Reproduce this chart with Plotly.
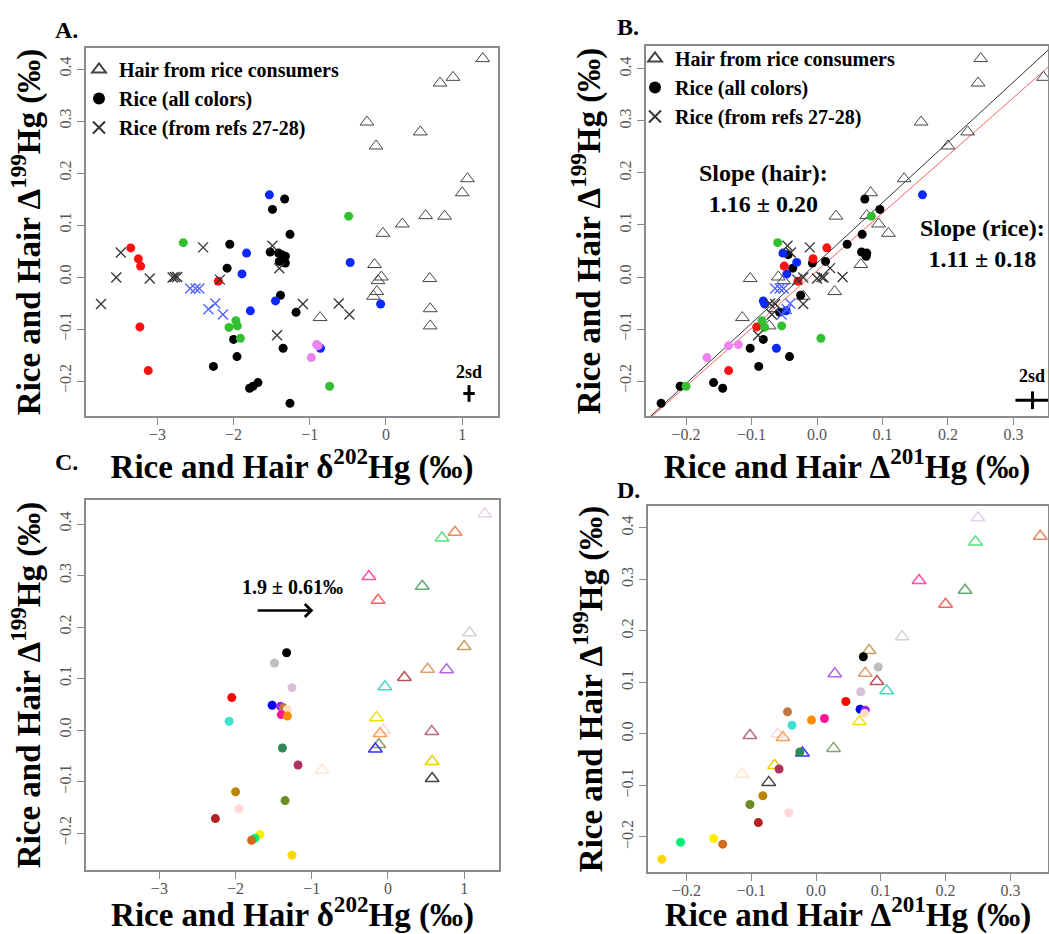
import plotly.graph_objects as go

# ---------------- data ----------------
# Hair from rice consumers (21)
hair_d202 = [1.27, 0.71, 0.88, -0.25, 0.45, -0.13, 1.07, 1.00, 0.52, 0.77, 0.215,
             -0.04, -0.15, -0.06, -0.105, 0.575, -0.12, -0.165, 0.58, -0.865, 0.58]
hair_D201 = [0.25, 0.246, 0.346, 0.159, 0.23, 0.20, 0.133, 0.082, 0.076, 0.029, 0.094,
             0.109, 0.067, -0.059, -0.051, -0.102, 0.027, -0.021, -0.064, -0.114, -0.073]
hair_D199 = [0.42, 0.373, 0.384, 0.298, 0.279, 0.252, 0.189, 0.162, 0.118, 0.117, 0.102,
             0.084, 0.024, 0.0, -0.007, -0.003, -0.028, -0.037, -0.061, -0.078, -0.094]
hair_colors = ["#E6D0F0", "#55DD77", "#E88A5A", "#FF4FA5", "#66AA77", "#F56565", "#D3D3D3",
               "#C8A060", "#DDA070", "#B266E0", "#C0505A", "#48D8C8", "#EEE000", "#FFD8D8",
               "#F8A050", "#C06888", "#88A070", "#3030FF", "#EECC00", "#FFE8CC", "#444444"]

# Rice paired with hair (21) - drawn black in A/B, coloured in C/D
pair_d202 = [-1.33, -1.49, -1.26, -2.05, -1.52, -1.41, -1.37, -1.32, -1.40, -1.32, -2.085,
             -1.385, -1.18, -2.0, -1.35, -1.955, -2.265, -1.68, -1.745, -1.79, -1.26]
pair_D201 = [0.073, 0.096, 0.069, 0.046, 0.068, 0.076, -0.044, 0.075, 0.013, -0.007, -0.037,
             -0.025, -0.057, -0.082, -0.102, -0.042, -0.089, -0.158, -0.209, -0.144, -0.238]
pair_D199 = [0.15, 0.13, 0.082, 0.063, 0.048, 0.046, 0.043, 0.04, 0.03, 0.027, 0.017,
             -0.035, -0.068, -0.12, -0.137, -0.153, -0.172, -0.203, -0.21, -0.214, -0.243]
pair_colors = ["#000000", "#BEBEBE", "#D8BFD8", "#FF0000", "#0000FF", "#A020F0", "#C07840",
               "#FFE0C0", "#FF1493", "#FF8C00", "#40E0D0", "#2E8B57", "#B03060", "#B8860B",
               "#6B8E23", "#FFD8D8", "#B22222", "#FFEE00", "#00EE76", "#D2691E", "#FFD700"]

# Other rice samples
blue_d202 = [-1.53, -1.83, -1.89, -1.78, -0.47, -1.45, -0.07, -0.86]
blue_D201 = [0.161, -0.052, -0.046, -0.047, -0.031, -0.082, -0.08, -0.062]
blue_D199 = [0.158, 0.046, 0.006, -0.065, 0.028, -0.046, -0.052, -0.137]

red_d202 = [-3.35, -3.25, -3.22, -3.23, -3.12, -2.2]
red_D201 = [0.015, -0.006, -0.05, -0.092, -0.135, -0.029]
red_D199 = [0.056, 0.035, 0.021, -0.096, -0.18, -0.008]

green_d202 = [-2.66, -0.49, -1.97, -1.95, -2.06, -1.91, -0.74]
green_D201 = [-0.06, 0.083, -0.084, -0.054, -0.08, 0.006, -0.2]
green_D199 = [0.066, 0.117, -0.084, -0.094, -0.097, -0.118, -0.21]

violet_d202 = [-0.89, -0.91, -0.98]
violet_D201 = [-0.135, -0.12, -0.168]
violet_D199 = [-0.132, -0.13, -0.155]

# Rice from refs 27-28
refg_d202 = [-3.48, -3.54, -3.74, -3.1, -2.8, -2.77, -2.74, -2.4, -2.18, -1.49, -1.4,
             -1.09, -0.62, -0.48, -1.43]
refg_D201 = [-0.04, -0.021, -0.021, 0.0, 0.01, 0.039, 0.007, -0.011, -0.03, -0.045, 0.02,
             -0.064, -0.072, -0.069, -0.09]
refg_D199 = [0.047, -0.001, -0.052, -0.003, -0.001, 0.0, 0.0, 0.057, -0.005, 0.06, 0.017,
             -0.052, -0.051, -0.072, -0.112]
refb_d202 = [-2.57, -2.5, -2.45, -2.33, -2.24, -2.14]
refb_D201 = [-0.064, -0.057, -0.051, -0.046, -0.041, -0.054]
refb_D199 = [-0.022, -0.022, -0.022, -0.062, -0.051, -0.072]

# regression lines (panel B)
hair_slope, hair_icpt = 1.16, 0.027
rice_slope, rice_icpt = 1.11, 0.012

# 2sd error crosses
sdA = dict(x=1.09, y=-0.224, ex=0.075, ey=0.016)
sdB = dict(x=0.329, y=-0.237, ex=0.026, ey=0.017)

# shift arrow (panel C)
arrow_x0, arrow_x1, arrow_y = -1.73, -0.98, 0.232

# ---------------- layout helpers ----------------
W, H = 1049, 934
SERIF = "Liberation Serif"


def xdom(a, b):
    return [a / W, b / W]


def ydom(top, bottom):
    return [1 - bottom / H, 1 - top / H]


A_x, A_y = [-3.937, 1.470], [-0.2673, 0.4404]
B_x, B_y = [-0.2611, 0.3527], [-0.2673, 0.4442]
C_x, C_y = [-3.963, 1.457], [-0.2718, 0.4466]
D_x, D_y = [-0.2593, 0.358], [-0.268, 0.4427]

fig = go.Figure()

HAIR_GRAY = "#444444"


def hair_marker(color, lw=1.0):
    return dict(symbol="triangle-up-open", size=12, color=color, line=dict(width=lw))


def dot(color):
    return dict(symbol="circle", size=9, color=color, line=dict(width=0))


def xmark(color):
    return dict(symbol="x-thin-open", size=10, color=color, line=dict(width=1.3))


def add_main(xa, ya, legend, use201):
    hx = hair_D201 if use201 else hair_d202
    px_ = pair_D201 if use201 else pair_d202
    bx = blue_D201 if use201 else blue_d202
    rx = red_D201 if use201 else red_d202
    gx = green_D201 if use201 else green_d202
    vx = violet_D201 if use201 else violet_d202
    rgx = refg_D201 if use201 else refg_d202
    rbx = refb_D201 if use201 else refb_d202
    common = dict(mode="markers", xaxis=xa, yaxis=ya, legend=legend, hoverinfo="x+y")
    fig.add_trace(go.Scatter(x=hx, y=hair_D199, marker=hair_marker(HAIR_GRAY),
                             name="<b>Hair from rice consumers</b>", legendrank=1, **common))
    fig.add_trace(go.Scatter(x=px_, y=pair_D199, marker=dot("#000000"),
                             name="<b>Rice (all colors)</b>", legendrank=2, **common))
    fig.add_trace(go.Scatter(x=bx, y=blue_D199, marker=dot("#0A28FF"), name="blue rice",
                             showlegend=False, **common))
    fig.add_trace(go.Scatter(x=rx, y=red_D199, marker=dot("#FF1010"), name="red rice",
                             showlegend=False, **common))
    fig.add_trace(go.Scatter(x=gx, y=green_D199, marker=dot("#33C030"), name="green rice",
                             showlegend=False, **common))
    fig.add_trace(go.Scatter(x=vx, y=violet_D199, marker=dot("#EE82EE"), name="violet rice",
                             showlegend=False, **common))
    fig.add_trace(go.Scatter(x=rgx, y=refg_D199, marker=xmark("#333333"),
                             name="<b>Rice (from refs 27-28)</b>", legendrank=3, **common))
    fig.add_trace(go.Scatter(x=rbx, y=refb_D199, marker=xmark("#5060FF"), name="refs blue",
                             showlegend=False, **common))


def add_sd(xa, ya, sd):
    fig.add_trace(go.Scatter(
        x=[sd["x"]], y=[sd["y"]], mode="markers", xaxis=xa, yaxis=ya,
        marker=dict(size=1, color="rgba(0,0,0,0)"), showlegend=False, hoverinfo="skip",
        error_x=dict(type="constant", value=sd["ex"], color="black", thickness=3, width=0),
        error_y=dict(type="constant", value=sd["ey"], color="black", thickness=3, width=0)))


# Panel A
add_main("x", "y", "legend", False)
add_sd("x", "y", sdA)

# Panel B
fig.add_trace(go.Scatter(x=B_x, y=[hair_slope * v + hair_icpt for v in B_x], mode="lines",
                         xaxis="x2", yaxis="y2", line=dict(color="#333333", width=1),
                         showlegend=False, hoverinfo="skip"))
fig.add_trace(go.Scatter(x=B_x, y=[rice_slope * v + rice_icpt for v in B_x], mode="lines",
                         xaxis="x2", yaxis="y2", line=dict(color="#FF6060", width=1),
                         showlegend=False, hoverinfo="skip"))
add_main("x2", "y2", "legend2", True)
add_sd("x2", "y2", sdB)

# Panel C
fig.add_trace(go.Scatter(x=hair_d202, y=hair_D199, mode="markers", xaxis="x3", yaxis="y3",
                         marker=hair_marker(hair_colors, 1.5), showlegend=False, name="hair"))
fig.add_trace(go.Scatter(x=pair_d202, y=pair_D199, mode="markers", xaxis="x3", yaxis="y3",
                         marker=dot(pair_colors), showlegend=False, name="rice"))
# Panel D
fig.add_trace(go.Scatter(x=hair_D201, y=hair_D199, mode="markers", xaxis="x4", yaxis="y4",
                         marker=hair_marker(hair_colors, 1.5), showlegend=False, name="hair"))
fig.add_trace(go.Scatter(x=pair_D201, y=pair_D199, mode="markers", xaxis="x4", yaxis="y4",
                         marker=dot(pair_colors), showlegend=False, name="rice"))

tickfont = dict(family=SERIF, size=16, color="#555555")
titlefont = dict(family=SERIF, size=33, color="black")


def axis(domain, rng, anchor, title, dtick, fmt=None, tickangle=0, standoff=5, tls=-4):
    d = dict(domain=domain, range=rng, anchor=anchor, dtick=dtick, tick0=0,
             showline=True, mirror=True, linecolor="#8a8a8a", linewidth=1.5,
             ticks="outside", ticklen=7, tickwidth=1, tickcolor="#8a8a8a",
             ticklabelstandoff=tls,
             tickfont=tickfont, showgrid=False, zeroline=False, tickangle=tickangle,
             title=dict(text=title, font=titlefont, standoff=standoff))
    if fmt:
        d["tickformat"] = fmt
    return d


T202 = "<b>Rice and Hair δ<sup>202</sup>Hg (‰)</b>"
T201 = "<b>Rice and Hair Δ<sup>201</sup>Hg (‰)</b>"
T199 = "<b>Rice and Hair Δ<sup>199</sup>Hg (‰)</b>"

fig.update_layout(
    width=W, height=H, margin=dict(l=0, r=0, t=0, b=0),
    paper_bgcolor="white", plot_bgcolor="white",
    xaxis=axis(xdom(86, 498), A_x, "y", T202, 1),
    yaxis=axis(ydom(48, 416), A_y, "x", T199, 0.1, ".1f", -90, 6, 0),
    xaxis2=axis(xdom(646, 1048), B_x, "y2", T201, 0.1, ".1f"),
    yaxis2=axis(ydom(46, 416), B_y, "x2", T199, 0.1, ".1f", -90, 6, 0),
    xaxis3=axis(xdom(86, 499), C_x, "y3", T202, 1),
    yaxis3=axis(ydom(500, 870), C_y, "x3", T199, 0.1, ".1f", -90, 6, 0),
    xaxis4=axis(xdom(648, 1048), D_x, "y4", T201, 0.1, ".1f"),
    yaxis4=axis(ydom(506, 872), D_y, "x4", T199, 0.1, ".1f", -90, 6, 0),
    legend=dict(x=79 / W, y=1 - 50 / H, xanchor="left", yanchor="top",
                font=dict(family=SERIF, size=20, color="black"),
                bgcolor="rgba(0,0,0,0)", itemsizing="constant", tracegroupgap=0),
    legend2=dict(x=635 / W, y=1 - 39 / H, xanchor="left", yanchor="top",
                 font=dict(family=SERIF, size=20, color="black"),
                 bgcolor="rgba(0,0,0,0)", itemsizing="constant", tracegroupgap=0),
    showlegend=True,
)

ann = []
bold = dict(family=SERIF, color="black")
for lab, px, py in [("A.", 53, 30), ("B.", 615, 27), ("C.", 53, 462), ("D.", 615, 490)]:
    ann.append(dict(text=f"<b>{lab}</b>", x=px / W, y=1 - py / H, xref="paper", yref="paper",
                    xanchor="left", yanchor="middle", showarrow=False,
                    font=dict(size=24, **bold)))
ann.append(dict(text="<b>2sd</b>", x=sdA["x"], y=sdA["y"] + 0.042, xref="x", yref="y",
                showarrow=False, font=dict(size=18, **bold)))
ann.append(dict(text="<b>2sd</b>", x=sdB["x"], y=sdB["y"] + 0.047, xref="x2", yref="y2",
                showarrow=False, font=dict(size=18, **bold)))
ann.append(dict(text=f"<b>Slope (hair):<br>{hair_slope:.2f} ± 0.20</b>", x=-0.082, y=0.171,
                xref="x2", yref="y2", showarrow=False, font=dict(size=24, **bold)))
ann.append(dict(text=f"<b>Slope (rice):<br>{rice_slope:.2f} ± 0.18</b>", x=0.253, y=0.065,
                xref="x2", yref="y2", showarrow=False, font=dict(size=24, **bold)))
ann.append(dict(text="<b>1.9 ± 0.61‰</b>", x=(arrow_x0 + arrow_x1) / 2 + 0.1, y=arrow_y + 0.046,
                xref="x3", yref="y3", showarrow=False, font=dict(size=20, **bold)))
ann.append(dict(text="", x=arrow_x1, y=arrow_y, ax=arrow_x0, ay=arrow_y, xref="x3", yref="y3",
                axref="x3", ayref="y3", showarrow=True, arrowhead=4, arrowsize=1,
                arrowwidth=2.5, arrowcolor="black"))
fig.update_layout(annotations=ann)

fig.write_html("out.html", config={"displayModeBar": False},
               post_script="document.body.style.margin='0';document.body.style.overflow='hidden';")
